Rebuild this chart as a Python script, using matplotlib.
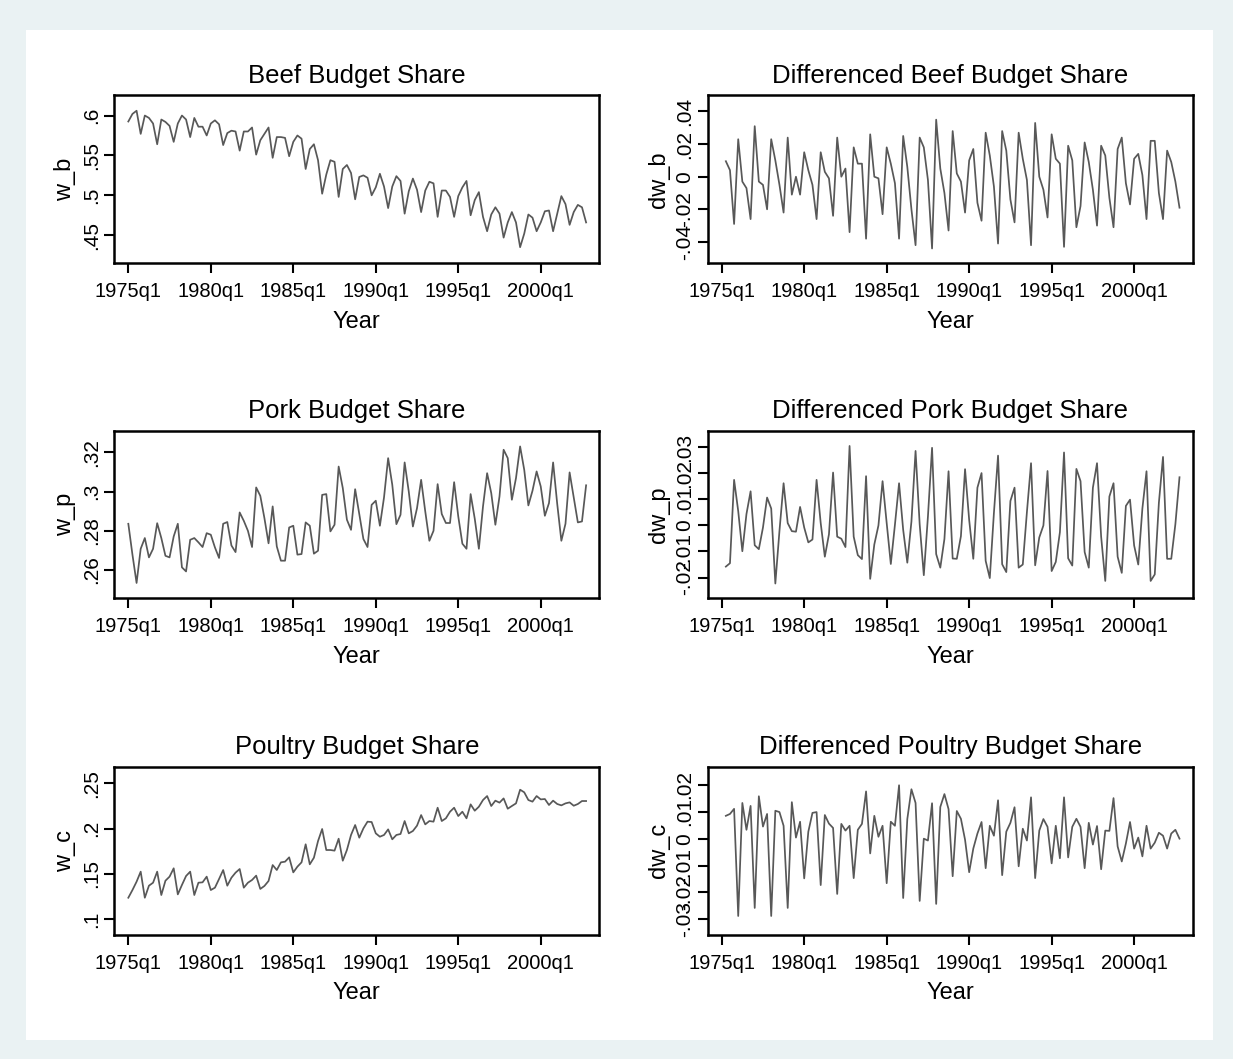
import numpy as np
import matplotlib
matplotlib.use("Agg")
import matplotlib.pyplot as plt
from matplotlib.patches import Rectangle

plt.rcParams["font.family"] = ["Liberation Sans", "DejaVu Sans"]

# ── Quarterly budget shares, 1975q1 – 2002q4 ─────────────────────────────────
quarters = np.arange(112)          # 0 = 1975q1
tick_pos = [0, 20, 40, 60, 80, 100]
tick_lab = ["1975q1", "1980q1", "1985q1", "1990q1", "1995q1", "2000q1"]

w_b = [
    0.5925, 0.602, 0.606, 0.577, 0.600, 0.597, 0.590, 0.564, 0.595, 0.592,
    0.587, 0.567, 0.590, 0.600, 0.595, 0.573, 0.597, 0.586, 0.586, 0.575,
    0.590, 0.594, 0.589, 0.563, 0.578, 0.581, 0.580, 0.556, 0.580, 0.580,
    0.585, 0.551, 0.569, 0.577, 0.585, 0.547, 0.573, 0.573, 0.572, 0.549,
    0.567, 0.575, 0.571, 0.533, 0.558, 0.564, 0.544, 0.502, 0.526, 0.544,
    0.542, 0.498, 0.533, 0.538, 0.528, 0.495, 0.523, 0.525, 0.522, 0.500,
    0.510, 0.527, 0.511, 0.484, 0.511, 0.524, 0.518, 0.477, 0.505, 0.521,
    0.507, 0.479, 0.506, 0.517, 0.515, 0.473, 0.506, 0.506, 0.498, 0.473,
    0.499, 0.510, 0.518, 0.475, 0.494, 0.504, 0.473, 0.455, 0.476, 0.485,
    0.477, 0.447, 0.466, 0.479, 0.466, 0.435, 0.452, 0.476, 0.472, 0.455,
    0.466, 0.480, 0.481, 0.455, 0.477, 0.499, 0.489, 0.463, 0.479, 0.488,
    0.485, 0.466,
]

w_p = [
    0.2835, 0.2677, 0.2532, 0.2707, 0.2762, 0.2663, 0.2707, 0.2838, 0.2762, 0.2671,
    0.2663, 0.2770, 0.2835, 0.2612, 0.2591, 0.2753, 0.2762, 0.2740, 0.2716, 0.2787,
    0.2779, 0.2714, 0.2660, 0.2835, 0.2844, 0.2724, 0.2690, 0.2893, 0.2850, 0.2799,
    0.2716, 0.3021, 0.2978, 0.2864, 0.2735, 0.2924, 0.2719, 0.2646, 0.2646, 0.2816,
    0.2825, 0.2677, 0.2680, 0.2842, 0.2825, 0.2682, 0.2697, 0.2983, 0.2987, 0.2796,
    0.2830, 0.3128, 0.3018, 0.2856, 0.2804, 0.3012, 0.2885, 0.2757, 0.2716, 0.2932,
    0.2953, 0.2825, 0.2970, 0.3171, 0.3035, 0.2833, 0.2881, 0.3149, 0.3000, 0.2821,
    0.2915, 0.3060, 0.2898, 0.2748, 0.2799, 0.3038, 0.2885, 0.2839, 0.2839, 0.3048,
    0.2873, 0.2733, 0.2707, 0.2987, 0.2861, 0.2707, 0.2924, 0.3094, 0.2992, 0.2830,
    0.2975, 0.3214, 0.3171, 0.2958, 0.3069, 0.3231, 0.3111, 0.2929, 0.3004, 0.3103,
    0.3026, 0.2876, 0.2941, 0.3149, 0.2936, 0.2748, 0.2835, 0.3098, 0.2970, 0.2842,
    0.2847, 0.3032,
]

w_c = [
    0.1237, 0.1322, 0.1414, 0.1525, 0.1237, 0.1370, 0.1403, 0.1525, 0.1267, 0.1425,
    0.1470, 0.1562, 0.1274, 0.1378, 0.1477, 0.1525, 0.1267, 0.1403, 0.1407, 0.1470,
    0.1322, 0.1348, 0.1444, 0.1543, 0.1370, 0.1458, 0.1514, 0.1554, 0.1348, 0.1403,
    0.1433, 0.1481, 0.1334, 0.1367, 0.1422, 0.1598, 0.1543, 0.1628, 0.1635, 0.1683,
    0.1517, 0.1580, 0.1628, 0.1827, 0.1606, 0.1679, 0.1863, 0.1996, 0.1764, 0.1764,
    0.1757, 0.1889, 0.1646, 0.1764, 0.1930, 0.2040, 0.1900, 0.2003, 0.2077, 0.2073,
    0.1948, 0.1911, 0.1930, 0.1992, 0.1882, 0.1930, 0.1941, 0.2084, 0.1948, 0.1974,
    0.2033, 0.2150, 0.2047, 0.2084, 0.2077, 0.2231, 0.2084, 0.2114, 0.2187, 0.2231,
    0.2139, 0.2187, 0.2114, 0.2268, 0.2198, 0.2242, 0.2316, 0.2360, 0.2250, 0.2309,
    0.2287, 0.2334, 0.2220, 0.2250, 0.2279, 0.2430, 0.2401, 0.2316, 0.2298, 0.2360,
    0.2323, 0.2327, 0.2261, 0.2309, 0.2272, 0.2257, 0.2279, 0.2290, 0.2253, 0.2272,
    0.2305, 0.2305,
]

# first differences (start at 1975q2)
dw_b = np.diff(w_b)
dw_p = np.diff(w_p)
dw_c = np.diff(w_c)

# ── panel specs: title, ylabel, x, y, yticks, yticklabels, ylim ─────────────
panels = [
    ("Beef Budget Share", "w_b", quarters, w_b,
     [0.45, 0.5, 0.55, 0.6], [".45", ".5", ".55", ".6"], (0.4148, 0.6251)),
    ("Differenced Beef Budget Share", "dw_b", quarters[1:], dw_b,
     [-0.04, -0.02, 0, 0.02, 0.04], ["-.04", "-.02", "0", ".02", ".04"], (-0.0531, 0.0498)),
    ("Pork Budget Share", "w_p", quarters, w_p,
     [0.26, 0.28, 0.30, 0.32], [".26", ".28", ".3", ".32"], (0.2453, 0.3312)),
    ("Differenced Pork Budget Share", "dw_p", quarters[1:], dw_p,
     [-0.02, -0.01, 0, 0.01, 0.02, 0.03], ["-.02", "-.01", "0", ".01", ".02", ".03"], (-0.0280, 0.0364)),
    ("Poultry Budget Share", "w_c", quarters, w_c,
     [0.10, 0.15, 0.20, 0.25], [".1", ".15", ".2", ".25"], (0.0831, 0.2684)),
    ("Differenced Poultry Budget Share", "dw_c", quarters[1:], dw_c,
     [-0.03, -0.02, -0.01, 0, 0.01, 0.02], ["-.03", "-.02", "-.01", "0", ".01", ".02"], (-0.0357, 0.0268)),
]

W, H = 1233, 1059
fig = plt.figure(figsize=(W / 100, H / 100), dpi=100, facecolor="#EAF2F3")

# white graph region behind the panels
fig.patches.append(Rectangle((26 / W, 1 - 1040 / H), (1213 - 26) / W, (1040 - 30) / H,
                             transform=fig.transFigure, facecolor="white",
                             edgecolor="none", zorder=-10))

col_left = [114.3, 707.7]
row_top = [95.5, 430.6, 766.7]
box_w, box_h = 485.0, 167.8

for i, (title, ylab, x, y, yt, ytl, ylim) in enumerate(panels):
    r, c = divmod(i, 2)
    ax = fig.add_axes([col_left[c] / W, 1 - (row_top[r] + box_h) / H, box_w / W, box_h / H])
    ax.plot(x, y, color="#585858", lw=1.25)
    ax.set_xlim(-3.4, 114.2)
    ax.set_ylim(*ylim)
    ax.set_xticks(tick_pos)
    ax.set_xticklabels(tick_lab)
    ax.set_yticks(yt)
    ax.set_yticklabels(ytl, rotation=90, va="center")
    ax.tick_params(direction="out", length=7.2, width=1.5)
    ax.tick_params(axis="x", labelsize=14.5, pad=6.5)
    ax.tick_params(axis="y", labelsize=15, pad=2.5)
    for s in ax.spines.values():
        s.set_linewidth(1.8)
    ax.set_title(title, fontsize=18.5, pad=9)
    ax.set_xlabel("Year", fontsize=17, labelpad=7)
    ax.set_ylabel(ylab, fontsize=17, labelpad=4)

fig.savefig("out.png", dpi=100, facecolor=fig.get_facecolor())
